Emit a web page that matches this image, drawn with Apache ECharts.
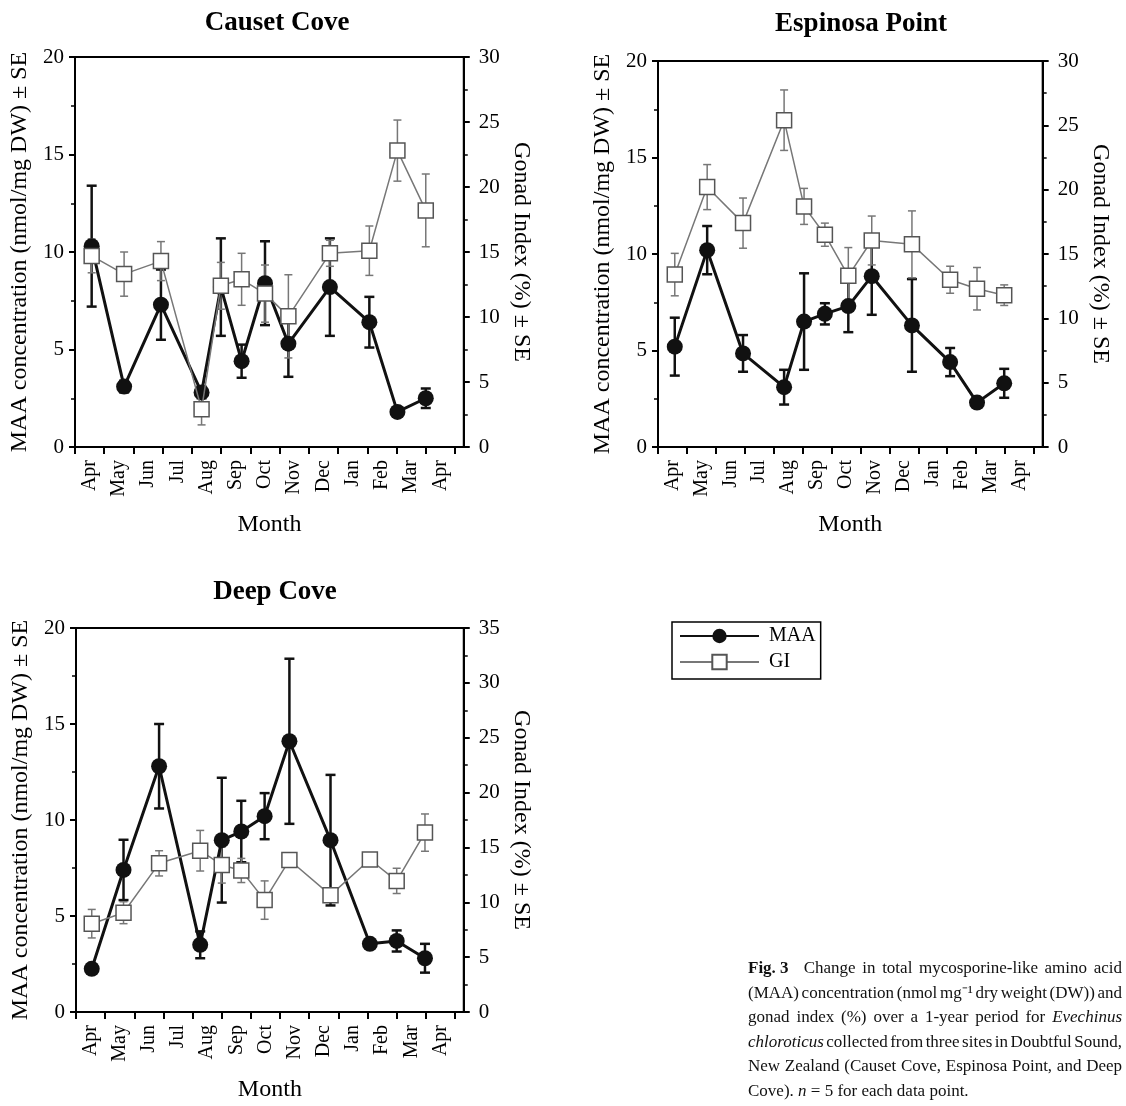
<!DOCTYPE html>
<html>
<head>
<meta charset="utf-8">
<script src="https://cdn.jsdelivr.net/npm/echarts@6/dist/echarts.min.js"></script>
<style>
  html, body { margin: 0; padding: 0; background: #fff; }
  #main { width: 1126px; height: 1106px; }
</style>
</head>
<body>
<div id="main"></div>
<script>
// month labels (one per band on the x axis)
var months = ["Apr", "May", "Jun", "Jul", "Aug", "Sep", "Oct", "Nov", "Dec", "Jan", "Feb", "Mar", "Apr"];

// Causet Cove (x = months since start of April)
var causetX = [0.57, 1.68, 2.94, 4.33, 4.99, 5.70, 6.50, 7.30, 8.72, 10.07, 11.03, 12.0];
var causetMAA = [10.3, 3.1, 7.3, 2.8, 8.2, 4.4, 8.4, 5.3, 8.2, 6.4, 1.8, 2.5];
var causetMAASe = [3.1, 0.3, 1.8, 0.3, 2.5, 0.85, 2.15, 1.7, 2.5, 1.3, 0.1, 0.5];
var causetGI = [14.7, 13.3, 14.3, 2.9, 12.4, 12.9, 11.8, 10.05, 14.9, 15.1, 22.8, 18.2];
var causetGISe = [1.3, 1.7, 1.5, 1.2, 1.8, 2.0, 2.2, 3.2, 1.0, 1.9, 2.35, 2.8];

// Espinosa Point
var espX = [0.58, 1.70, 2.94, 4.36, 5.05, 5.77, 6.58, 7.39, 8.78, 10.1, 11.03, 11.97];
var espMAA = [5.2, 10.2, 4.85, 3.1, 6.5, 6.9, 7.3, 8.85, 6.3, 4.4, 2.3, 3.3];
var espMAASe = [1.5, 1.25, 0.95, 0.9, 2.5, 0.55, 1.35, 2.0, 2.4, 0.73, 0.2, 0.75];
var espGI = [13.4, 20.2, 17.4, 25.4, 18.7, 16.5, 13.3, 16.05, 15.75, 13.0, 12.3, 11.8];
var espGISe = [1.65, 1.75, 1.95, 2.35, 1.4, 0.9, 2.2, 1.9, 2.6, 1.05, 1.65, 0.8];

// Deep Cove
var deepX = [0.54, 1.63, 2.85, 4.26, 5.0, 5.67, 6.47, 7.32, 8.73, 10.08, 11.0, 11.97];
var deepMAA = [2.25, 7.4, 12.8, 3.5, 8.95, 9.4, 10.2, 14.1, 8.95, 3.55, 3.7, 2.8];
var deepMAASe = [0, 1.57, 2.2, 0.7, 3.25, 1.6, 1.2, 4.3, 3.4, 0.15, 0.55, 0.75];
var deepGI = [8.05, 9.05, 13.55, 14.7, 13.4, 12.9, 10.2, 13.85, 10.65, 13.9, 11.95, 16.35];
var deepGISe = [1.3, 1.0, 1.15, 1.85, 1.65, 1.1, 1.75, 0.3, 0.5, 0.3, 1.15, 1.7];

// caption (** bold **, * italic *)
var capLines = [
  "**Fig.\u00a03\u00a0\u00a0** Change in total mycosporine-like amino acid",
  "(MAA) concentration (nmol mg\u207b\u00b9 dry weight (DW)) and",
  "gonad index (%) over a 1-year period for *Evechinus*",
  "*chloroticus* collected from three sites in Doubtful Sound,",
  "New Zealand (Causet Cove, Espinosa Point, and Deep",
  "Cove). *n* = 5 for each data point."
];

var FONT = "Liberation Serif";
var XMAX = 13.3;

var panels = [
  { title: "Causet Cove", left: 75, top: 57, tickW: 380, h: 390, giMax: 30, tx: 272, ty: 5,
    x: causetX, maa: causetMAA, maaSe: causetMAASe, gi: causetGI, giSe: causetGISe },
  { title: "Espinosa Point", left: 658, top: 61, tickW: 376, h: 386, giMax: 30, tx: 856, ty: 6,
    x: espX, maa: espMAA, maaSe: espMAASe, gi: espGI, giSe: espGISe },
  { title: "Deep Cove", left: 76, top: 628, tickW: 379, h: 384, giMax: 35, tx: 270, ty: 574,
    x: deepX, maa: deepMAA, maaSe: deepMAASe, gi: deepGI, giSe: deepGISe }
];

function errRender(color, lw, cap) {
  return function (params, api) {
    var x = api.value(0);
    var a = api.coord([x, api.value(1)]);
    var b = api.coord([x, api.value(2)]);
    var st = { stroke: color, lineWidth: lw };
    return {
      type: "group",
      children: [
        { type: "line", shape: { x1: a[0], y1: a[1], x2: b[0], y2: b[1] }, style: st },
        { type: "line", shape: { x1: a[0] - cap, y1: a[1], x2: a[0] + cap, y2: a[1] }, style: st },
        { type: "line", shape: { x1: b[0] - cap, y1: b[1], x2: b[0] + cap, y2: b[1] }, style: st }
      ]
    };
  };
}

function pairs(xs, vals) {
  return xs.map(function (x, i) { return [x, vals[i]]; });
}
function errs(xs, vals, ses) {
  return xs.map(function (x, i) { return [x, vals[i] - ses[i], vals[i] + ses[i]]; });
}

var grids = [], xAxes = [], yAxes = [], series = [], titles = [];
var tickLine = { color: "#000", width: 2 };

panels.forEach(function (p, k) {
  var g = 2 * k;
  grids.push({
    left: p.left, top: p.top, width: p.tickW * XMAX / 13, height: p.h,
    show: true, borderColor: "#000", borderWidth: 2, backgroundColor: "transparent",
    outerBoundsMode: "none"
  });
  grids.push({ left: p.left, top: p.top, width: p.tickW, height: p.h, outerBoundsMode: "none" });

  titles.push({
    text: p.title, left: p.tx, top: p.ty, textAlign: "center",
    textStyle: { fontFamily: FONT, fontWeight: "bold", fontSize: 27, color: "#000" }
  });

  xAxes.push({
    type: "value", gridIndex: g, min: 0, max: XMAX,
    axisLine: { lineStyle: tickLine }, axisTick: { show: false }, axisLabel: { show: false },
    splitLine: { show: false },
    name: "Month", nameLocation: "middle", nameGap: 66,
    nameTextStyle: { fontFamily: FONT, fontSize: 24, color: "#000" }
  });
  xAxes.push({
    type: "category", gridIndex: g + 1, data: months, boundaryGap: true,
    axisLine: { show: false },
    axisTick: { show: true, length: 7, inside: false, lineStyle: tickLine },
    axisLabel: { rotate: 90, interval: 0, margin: 13, fontFamily: FONT, fontSize: 20, color: "#000" }
  });

  var yBase = {
    type: "value", gridIndex: g, min: 0, interval: 5,
    axisLine: { show: true, lineStyle: tickLine },
    axisTick: { show: true, length: 6, inside: false, lineStyle: tickLine },
    minorTick: { show: true, splitNumber: 2, length: 4, lineStyle: { color: "#000", width: 1.5 } },
    splitLine: { show: false },
    axisLabel: { fontFamily: FONT, fontSize: 21, color: "#000", margin: 11 },
    nameLocation: "middle",
    nameTextStyle: { fontFamily: FONT, fontSize: 24, color: "#000" }
  };
  yAxes.push(Object.assign({}, yBase, {
    position: "left", max: 20,
    name: "MAA concentration (nmol/mg DW) \u00b1 SE", nameRotate: 90, nameGap: 43
  }));
  yAxes.push(Object.assign({}, yBase, {
    position: "right", max: p.giMax,
    axisLabel: { fontFamily: FONT, fontSize: 21, color: "#000", margin: 15 },
    name: "Gonad Index (%) \u00b1 SE", nameRotate: -90, nameGap: 46
  }));
  yAxes.push({ type: "value", gridIndex: g + 1, show: false });

  var ya = 3 * k;
  series.push({
    type: "custom", name: "maaErr", xAxisIndex: g, yAxisIndex: ya, z: 2,
    renderItem: errRender("#111", 2.5, 5), encode: { x: 0, y: [1, 2] },
    data: errs(p.x, p.maa, p.maaSe)
  });
  series.push({
    type: "custom", name: "giErr", xAxisIndex: g, yAxisIndex: ya + 1, z: 2,
    renderItem: errRender("#777", 1.5, 4), encode: { x: 0, y: [1, 2] },
    data: errs(p.x, p.gi, p.giSe)
  });
  series.push({
    type: "line", name: "MAA", xAxisIndex: g, yAxisIndex: ya, z: 3,
    data: pairs(p.x, p.maa), symbol: "circle", symbolSize: 16,
    lineStyle: { color: "#111", width: 3 },
    itemStyle: { color: "#111", borderColor: "#111", borderWidth: 0 },
    emphasis: { disabled: true }, animation: false
  });
  series.push({
    type: "line", name: "GI", xAxisIndex: g, yAxisIndex: ya + 1, z: 4,
    data: pairs(p.x, p.gi), symbol: "rect", symbolSize: 15,
    lineStyle: { color: "#777", width: 1.5 },
    itemStyle: { color: "#fff", borderColor: "#555", borderWidth: 1.5 },
    emphasis: { disabled: true }, animation: false
  });
});

// justified caption, one text element per word
var CAP = 17, CAP_L = 748, CAP_R = 1122, CAP_TOP = 960, CAP_LH = 24.6;
var mctx = document.createElement("canvas").getContext("2d");
function parseWord(w) {
  if (w.indexOf("**") === 0) return { t: w.replace(/\*\*/g, ""), weight: "bold", st: "normal" };
  if (w.charAt(0) === "*") return { t: w.replace(/\*/g, ""), weight: "normal", st: "italic" };
  return { t: w, weight: "normal", st: "normal" };
}
var graphics = [];
capLines.forEach(function (line, li) {
  var words = line.split(" ").map(parseWord);
  var total = 0;
  words.forEach(function (w) {
    mctx.font = w.st + " " + w.weight + " " + CAP + "px '" + FONT + "'";
    w.w = mctx.measureText(w.t).width;
    total += w.w;
  });
  mctx.font = CAP + "px '" + FONT + "'";
  var space = mctx.measureText(" ").width;
  var last = li === capLines.length - 1;
  var gap = last ? space : (CAP_R - CAP_L - total) / (words.length - 1);
  var x = CAP_L;
  words.forEach(function (w) {
    graphics.push({
      type: "text", left: x, top: CAP_TOP + li * CAP_LH,
      style: { text: w.t, fontFamily: FONT, fontSize: CAP, fontWeight: w.weight, fontStyle: w.st, fill: "#111" }
    });
    x += w.w + gap;
  });
});

var chart = echarts.init(document.getElementById("main"), null, { renderer: "canvas" });
var option = {
  backgroundColor: "#fff",
  animation: false,
  title: titles,
  legend: {
    data: ["MAA", "GI"], orient: "vertical", left: 672, top: 622,
    itemWidth: 79, itemHeight: 18, itemGap: 6, padding: [4, 5, 7, 7],
    borderColor: "#000", borderWidth: 1.5,
    formatter: function (name) { return " " + name; },
    textStyle: { fontFamily: FONT, fontSize: 20, color: "#000" }
  },
  grid: grids,
  xAxis: xAxes,
  yAxis: yAxes,
  series: series,
  graphic: graphics
};
chart.setOption(option);
</script>
</body>
</html>
